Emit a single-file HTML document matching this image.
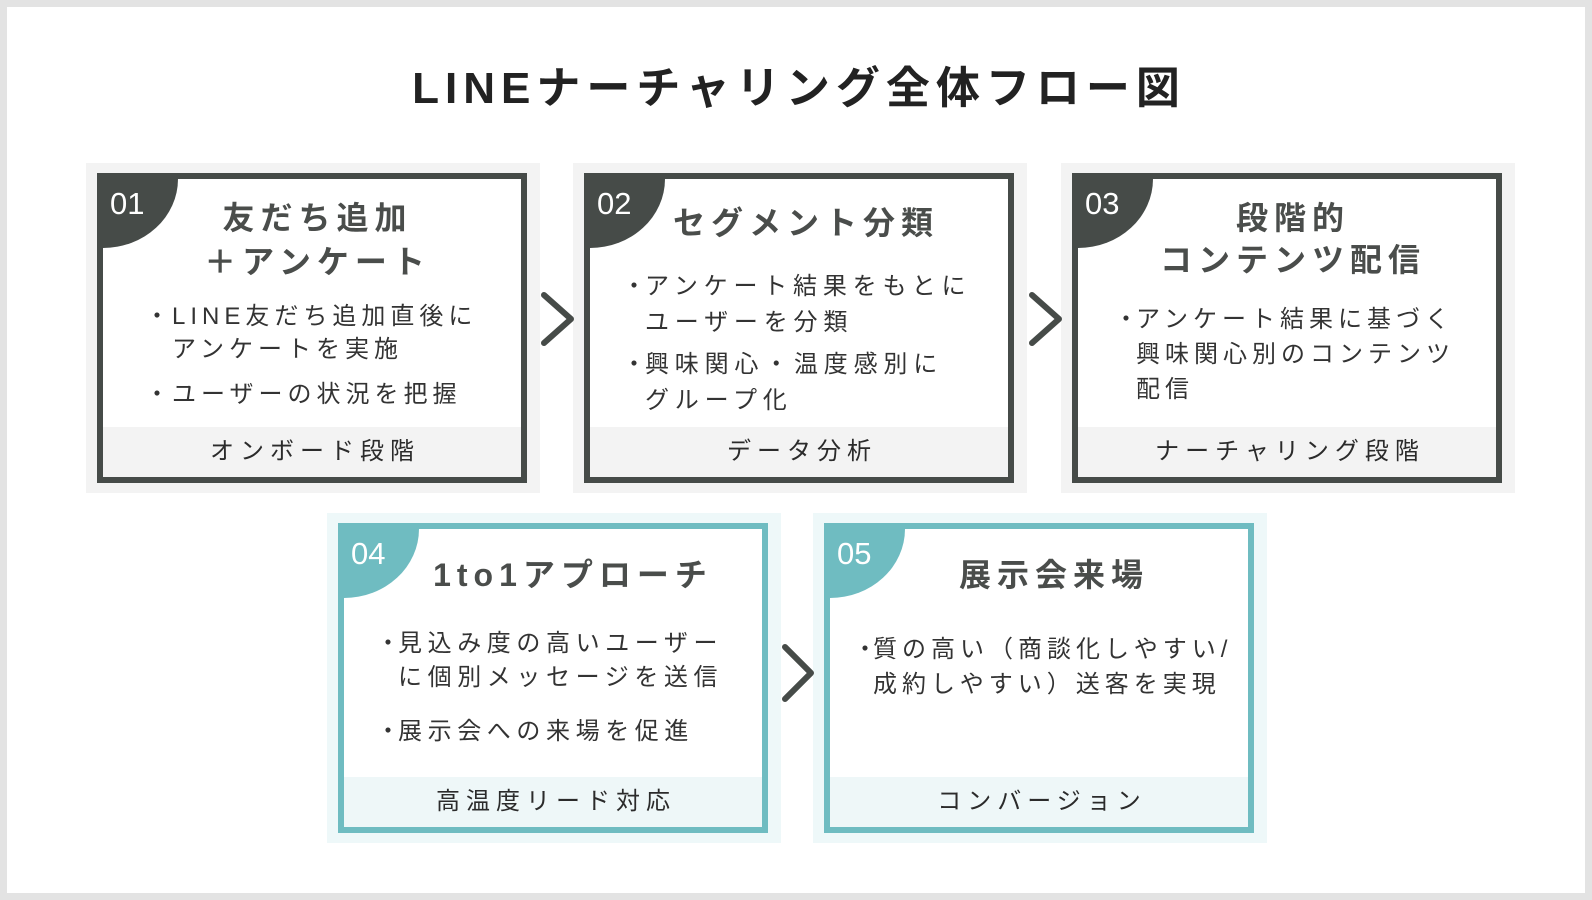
<!DOCTYPE html>
<html><head><meta charset="utf-8"><style>
*{margin:0;padding:0;box-sizing:border-box}
body{width:1592px;height:900px;background:#e3e3e3;position:relative;overflow:hidden;font-family:"Liberation Sans","Noto Sans CJK JP",sans-serif;color:#2b2b2b}
.page{position:absolute;left:7px;top:7px;width:1578px;height:886px;background:#fff}
.t{position:absolute;white-space:nowrap}
.title{left:0;width:1592px;top:62px;text-align:center;font-size:44px;font-weight:bold;letter-spacing:6px;color:#222;line-height:54px;padding-left:6px}
.bg{position:absolute;width:454px;height:330px}
.box{position:absolute;width:430px;height:310px;border:6px solid #464b48;background:#fff;overflow:hidden}
.box.tl{border-color:#6fbcc1}
.badge{position:absolute;left:0;top:0;width:75px;height:69px;background:#464b48;border-bottom-right-radius:100% 100%}
.tl .badge{background:#6fbcc1}
.num{position:absolute;left:7px;top:5px;color:#fff;font-size:31px;line-height:40px}
.foot{position:absolute;left:0;bottom:0;width:418px;height:50px;background:#f3f3f3;text-align:center;font-size:24px;letter-spacing:6px;line-height:50px;padding-left:6px;color:#2b2b2b}
.tl .foot{background:#eef7f8}
.h{position:absolute;left:0;width:418px;text-align:center;font-size:32px;font-weight:bold;letter-spacing:6px;color:#4a4d4b;line-height:40px}
.b{position:absolute;font-size:24px;letter-spacing:5px;line-height:32px;color:#333}
.arrow{position:absolute}
</style></head><body>
<div class="page"></div>
<div class="t title">LINEナーチャリング全体フロー図</div>

<div class="bg" style="left:86px;top:163px;background:#f3f3f3"></div>
<div class="box" style="left:97px;top:173px">
 <div class="badge"><div class="num">01</div></div>
 <div class="h" style="top:19px;padding-left:11px">友だち追加</div>
 <div class="h" style="top:63px;padding-left:11px">＋アンケート</div>
 <div class="b" style="left:42px;top:122px">・</div>
 <div class="b" style="left:69px;top:122px">LINE友だち追加直後に</div>
 <div class="b" style="left:69px;top:155px">アンケートを実施</div>
 <div class="b" style="left:42px;top:200px">・</div>
 <div class="b" style="left:69px;top:200px">ユーザーの状況を把握</div>
 <div class="foot">オンボード段階</div>
</div>

<div class="bg" style="left:573px;top:163px;background:#f3f3f3"></div>
<div class="box" style="left:584px;top:173px">
 <div class="badge"><div class="num">02</div></div>
 <div class="h" style="top:24px;padding-left:14px">セグメント分類</div>
 <div class="b" style="left:32px;top:92px">・</div>
 <div class="b" style="left:55px;top:92px;letter-spacing:5.8px">アンケート結果をもとに</div>
 <div class="b" style="left:55px;top:128px;letter-spacing:5.8px">ユーザーを分類</div>
 <div class="b" style="left:32px;top:170px">・</div>
 <div class="b" style="left:55px;top:170px;letter-spacing:5.8px">興味関心・温度感別に</div>
 <div class="b" style="left:55px;top:206px;letter-spacing:5.8px">グループ化</div>
 <div class="foot">データ分析</div>
</div>

<div class="bg" style="left:1061px;top:163px;background:#f3f3f3"></div>
<div class="box" style="left:1072px;top:173px">
 <div class="badge"><div class="num">03</div></div>
 <div class="h" style="top:19px;padding-left:12px">段階的</div>
 <div class="h" style="top:61px;padding-left:12px">コンテンツ配信</div>
 <div class="b" style="left:36px;top:125px">・</div>
 <div class="b" style="left:58px;top:125px">アンケート結果に基づく</div>
 <div class="b" style="left:58px;top:160px">興味関心別のコンテンツ</div>
 <div class="b" style="left:58px;top:195px">配信</div>
 <div class="foot">ナーチャリング段階</div>
</div>

<div class="bg" style="left:327px;top:513px;background:#eef8f9"></div>
<div class="box tl" style="left:338px;top:523px">
 <div class="badge"><div class="num">04</div></div>
 <div class="h" style="top:26px;padding-left:40px">1to1アプローチ</div>
 <div class="b" style="left:32px;top:99px">・</div>
 <div class="b" style="left:54px;top:99px;letter-spacing:5.6px">見込み度の高いユーザー</div>
 <div class="b" style="left:54px;top:133px;letter-spacing:5.6px">に個別メッセージを送信</div>
 <div class="b" style="left:32px;top:187px">・</div>
 <div class="b" style="left:54px;top:187px;letter-spacing:5.6px">展示会への来場を促進</div>
 <div class="foot">高温度リード対応</div>
</div>

<div class="bg" style="left:813px;top:513px;background:#eef8f9"></div>
<div class="box tl" style="left:824px;top:523px">
 <div class="badge"><div class="num">05</div></div>
 <div class="h" style="top:26px;padding-left:30px">展示会来場</div>
 <div class="b" style="left:23px;top:105px">・</div>
 <div class="b" style="left:43px;top:105px">質の高い（商談化しやすい/</div>
 <div class="b" style="left:43px;top:140px">成約しやすい）送客を実現</div>
 <div class="foot">コンバージョン</div>
</div>

<svg class="arrow" style="left:0;top:0" width="1592" height="900">
 <g fill="none" stroke="#464b48" stroke-width="6" stroke-linecap="round" stroke-linejoin="round">
  <polyline points="544,295 571,319 544,343"/>
  <polyline points="1032,295 1059,319 1032,343"/>
  <polyline points="785,647 811,673 785,699"/>
 </g>
</svg>
</body></html>
